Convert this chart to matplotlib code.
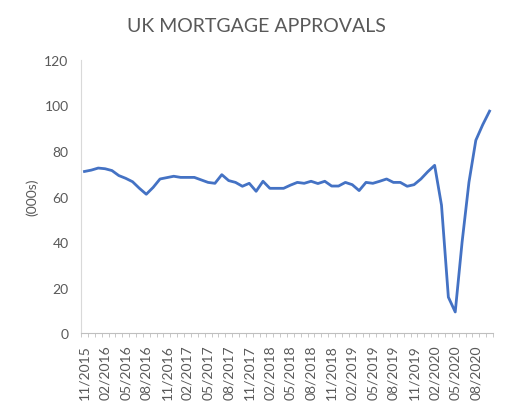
import matplotlib
matplotlib.use("Agg")
from matplotlib import pyplot as plt

# monthly mortgage approvals (000s), 11/2015 .. 10/2020
months = ['%02d/%d' % ((10 + i) % 12 + 1, 2015 + (10 + i) // 12) for i in range(60)]
approvals = [71.0, 71.6, 72.5, 72.2, 71.4, 69.2, 68.0, 66.5, 63.6, 61.0,
             64.0, 67.7, 68.3, 68.9, 68.4, 68.4, 68.4, 67.3, 66.2, 65.8,
             69.6, 67.0, 66.2, 64.5, 65.8, 62.3, 66.7, 63.6, 63.6, 63.6,
             65.0, 66.2, 65.8, 66.7, 65.7, 66.7, 64.6, 64.6, 66.2, 65.2,
             62.6, 66.2, 65.8, 66.7, 67.7, 66.2, 66.2, 64.5, 65.2, 67.7,
             70.9, 73.7, 56.2, 15.8, 9.3, 40.0, 66.3, 84.7, 91.5, 97.5]
yticks = [0, 20, 40, 60, 80, 100, 120]

plt.rcParams['font.family'] = ['Lato', 'DejaVu Sans']
grey = '#595959'

fig = plt.figure(figsize=(5.13, 4.06), dpi=100)
ax = fig.add_axes([0.158, 0.177, 0.803, 0.673])

x = list(range(len(months)))
ax.plot(x, approvals, color='#4472C4', linewidth=2)

ax.set_xlim(-0.5, len(months) - 0.5)
ax.set_ylim(0, 120)
ax.set_yticks(yticks)
ax.set_xticks(x[::3])
ax.set_xticklabels(months[::3], rotation=90)
ax.set_xticks([i - 0.5 for i in range(len(months) + 1)], minor=True)

for s in ['top', 'right']:
    ax.spines[s].set_visible(False)
ax.spines['left'].set_color('#d9d9d9')
ax.spines['bottom'].set_color('#bfbfbf')
ax.tick_params(axis='y', length=0, labelsize=10, colors=grey, pad=9)
ax.tick_params(axis='x', which='major', length=0, labelsize=10, colors=grey, pad=8)
ax.tick_params(axis='x', which='minor', length=3, color='#bfbfbf')

ax.set_ylabel('(000s)', fontsize=10, color=grey, labelpad=4)
fig.text(0.5, 0.935, 'UK MORTGAGE APPROVALS', ha='center', va='center',
         fontsize=14, color=grey)

fig.savefig('out.png', dpi=100)
